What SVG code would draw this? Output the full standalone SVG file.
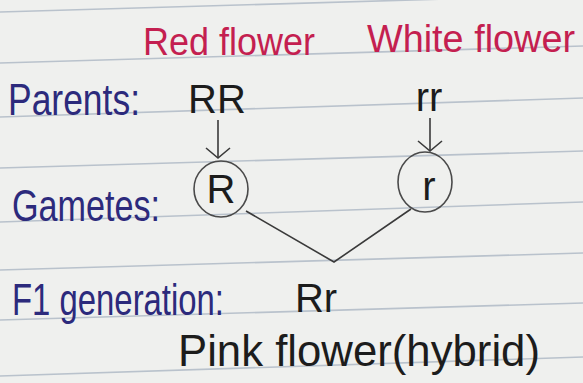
<svg xmlns="http://www.w3.org/2000/svg" width="583" height="383" viewBox="0 0 583 383">
  <style>
    .paper { fill: #eff0ee; }
    .rule { stroke: #b9c2cc; stroke-width: 1.6; fill: none; }
    .red { fill: #c41f50; font-family: "Liberation Sans", "Noto Sans", sans-serif; font-size: 38px; }
    .navy { fill: #2c2a7c; font-family: "Liberation Sans", "Noto Sans", sans-serif; font-size: 44px; }
    .ink { fill: #1c1c1c; font-family: "Liberation Sans", "Noto Sans", sans-serif; font-size: 44px; }
    .gene { fill: #1c1c1c; font-family: "Liberation Sans", "Noto Sans", sans-serif; font-size: 40px; text-anchor: middle; }
    .circle { fill: none; stroke: #4a4a4a; stroke-width: 1.6; }
    .conn { stroke: #3a3a3a; stroke-width: 1.6; fill: none; }
  </style>
  <defs>
    <marker id="arrow" viewBox="-2 -14 14 28" refX="10" refY="0" markerWidth="14" markerHeight="28" markerUnits="userSpaceOnUse" orient="auto">
      <path d="M0,-12 L10,0 L0,12" fill="none" stroke="#3a3a3a" stroke-width="1.6"/>
    </marker>
  </defs>

  <rect class="paper" x="0" y="0" width="583" height="383"/>
  <g id="ruled-lines">
    <line class="rule" x1="0" y1="12" x2="583" y2="-5"/>
    <line class="rule" x1="0" y1="63" x2="583" y2="46"/>
    <line class="rule" x1="0" y1="117" x2="583" y2="98"/>
    <line class="rule" x1="0" y1="168" x2="583" y2="151"/>
    <line class="rule" x1="0" y1="222" x2="583" y2="202"/>
    <line class="rule" x1="0" y1="270" x2="583" y2="253"/>
    <line class="rule" x1="0" y1="320" x2="583" y2="303"/>
    <line class="rule" x1="0" y1="376" x2="583" y2="357"/>
  </g>

  <g id="header-red">
    <text class="red" x="143" y="55" textLength="172" lengthAdjust="spacingAndGlyphs">Red flower</text>
  </g>
  <g id="header-white">
    <text class="red" x="367" y="52" textLength="208" lengthAdjust="spacingAndGlyphs">White flower</text>
  </g>

  <g id="label-parents">
    <text class="navy" x="8" y="115" textLength="132" lengthAdjust="spacingAndGlyphs">Parents:</text>
  </g>
  <g id="label-gametes">
    <text class="navy" x="12" y="221" textLength="148" lengthAdjust="spacingAndGlyphs">Gametes:</text>
  </g>
  <g id="label-f1">
    <text class="navy" x="12" y="315" textLength="212" lengthAdjust="spacingAndGlyphs">F1 generation:</text>
  </g>

  <g id="parent-RR">
    <text class="gene" x="217" y="113">RR</text>
  </g>
  <g id="parent-rr">
    <text class="gene" x="429" y="111">rr</text>
  </g>

  <g id="gamete-R">
    <ellipse class="circle" cx="221" cy="189" rx="27" ry="28"/>
    <text class="gene" x="221" y="203">R</text>
  </g>
  <g id="gamete-r">
    <ellipse class="circle" cx="425" cy="182" rx="27" ry="30"/>
    <text class="gene" x="429" y="200">r</text>
  </g>

  <g id="offspring-Rr">
    <text class="gene" x="316" y="312">Rr</text>
    <text class="ink" x="178" y="366" textLength="362" lengthAdjust="spacingAndGlyphs">Pink flower(hybrid)</text>
  </g>

  <g id="connectors">
    <line class="conn" x1="218" y1="120" x2="218" y2="158" marker-end="url(#arrow)"/>
    <line class="conn" x1="430" y1="118" x2="430" y2="151" marker-end="url(#arrow)"/>
    <polyline class="conn" points="246,211 334,262 411,209"/>
  </g>
</svg>
